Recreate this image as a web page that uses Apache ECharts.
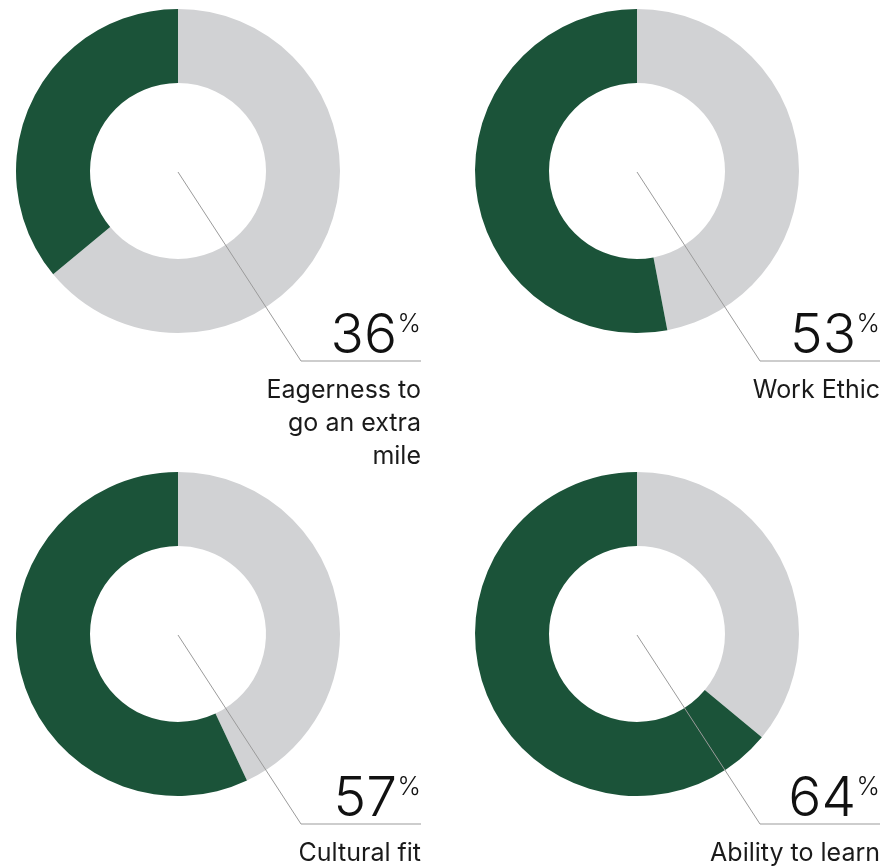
<!DOCTYPE html>
<html>
<head>
<meta charset="utf-8">
<script src="https://cdn.jsdelivr.net/npm/echarts@6/dist/echarts.min.js"></script>
<style>
html,body{margin:0;padding:0;background:#fff;}
#chart{width:884px;height:868px;}
</style>
</head>
<body>
<div id="chart"></div>
<script>
// Data
const categories = ['Eagerness to\ngo an extra\nmile', 'Work Ethic', 'Cultural fit', 'Ability to learn'];
const values = [36, 53, 57, 64];
const centers = [[178, 171], [637, 171], [178, 634], [637, 634]];

const GREEN = '#1b5339';
const GRAY = '#d1d2d4';
const FONT = 'Inter, "Noto Sans", sans-serif';

const chart = echarts.init(document.getElementById('chart'));

const series = values.map((v, i) => ({
  type: 'pie',
  center: centers[i],
  radius: [88, 162],
  startAngle: 90,
  clockwise: true,
  silent: true,
  animation: false,
  label: { show: false },
  labelLine: { show: false },
  emphasis: { disabled: true },
  data: [
    { value: 100 - v, name: 'rest', itemStyle: { color: GRAY } },
    { value: v, name: categories[i], itemStyle: { color: GREEN } }
  ]
}));

const graphics = [];
values.forEach((v, i) => {
  const [cx, cy] = centers[i];
  const ly = cy + 190;
  const rx = cx + 243;
  graphics.push({
    type: 'polyline', z: 100, silent: true,
    shape: { points: [[cx, cy + 1], [cx + 123, ly], [rx, ly]] },
    style: { stroke: '#9b9b9b', lineWidth: 1, fill: null }
  });
  graphics.push({
    type: 'text', z: 100, silent: true,
    style: {
      text: String(v), x: rx - 24, y: ly + 3,
      fontFamily: FONT, fontWeight: 300, fontSize: 55,
      fill: '#111', align: 'right', verticalAlign: 'bottom'
    }
  });
  graphics.push({
    type: 'text', z: 100, silent: true,
    style: {
      text: '%', x: rx, y: cy + 141,
      fontFamily: FONT, fontWeight: 300, fontSize: 25,
      fill: '#111', align: 'right', verticalAlign: 'top'
    }
  });
  graphics.push({
    type: 'text', z: 100, silent: true,
    style: {
      text: categories[i], x: rx, y: ly + 13,
      fontFamily: FONT, fontWeight: 400, fontSize: 25, lineHeight: 33,
      fill: '#1a1a1a', align: 'right', verticalAlign: 'top'
    }
  });
});

chart.setOption({
  backgroundColor: '#fff',
  animation: false,
  series: series,
  graphic: { elements: graphics }
});
</script>
</body>
</html>
